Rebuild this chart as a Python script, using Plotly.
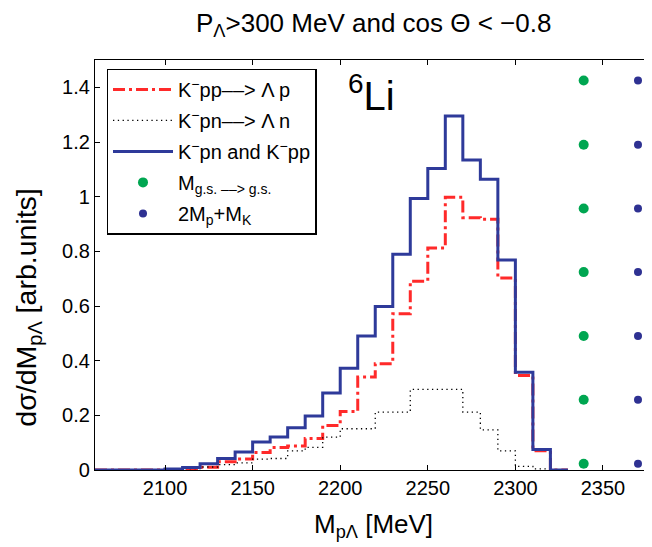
import plotly.graph_objects as go

# bin left edges (MeV), 10 MeV wide bins
bin_edges = [2060, 2070, 2080, 2090, 2100, 2110, 2120, 2130, 2140, 2150, 2160, 2170,
             2180, 2190, 2200, 2210, 2220, 2230, 2240, 2250, 2260, 2270, 2280, 2290,
             2300, 2310, 2320, 2330]

kpp_lp = [0, 0, 0, 0, 0.002, 0.004, 0.010, 0.030, 0.040, 0.064, 0.082, 0.088,
          0.115, 0.163, 0.214, 0.340, 0.389, 0.572, 0.691, 0.812, 0.998, 0.923,
          0.917, 0.702, 0.346, 0.070, 0]
kpn_ln = [0, 0, 0, 0, 0.002, 0.005, 0.011, 0.020, 0.026, 0.040, 0.042, 0.070,
          0.083, 0.120, 0.151, 0.151, 0.212, 0.212, 0.295, 0.295, 0.295, 0.212,
          0.147, 0.070, 0.013, 0.004, 0]
kpn_kpp = [0, 0, 0, 0, 0.004, 0.009, 0.023, 0.042, 0.066, 0.102, 0.121, 0.155,
           0.198, 0.282, 0.372, 0.490, 0.598, 0.789, 0.993, 1.103, 1.295, 1.134,
           1.064, 0.768, 0.358, 0.075, 0]

marker_levels = [0.023, 0.257, 0.490, 0.724, 0.957, 1.190, 1.425]
m_gs = 2339
m_2p_k = 2370

x_ticks = [2100, 2150, 2200, 2250, 2300, 2350]
y_ticks = [0, 0.2, 0.4, 0.6, 0.8, 1.0, 1.2, 1.4]
y_ticktext = ["0", "0.2", "0.4", "0.6", "0.8", "1", "1.2", "1.4"]

FONT = "Liberation Sans, Arial, Helvetica, sans-serif"


def stairs(vals):
    return vals + [vals[-1]]


fig = go.Figure()
fig.add_trace(go.Scatter(
    x=bin_edges, y=stairs(kpp_lp), mode="lines", line_shape="hv",
    line=dict(color="#ff2a2a", width=3, dash="12px,4px,3px,4px"),
    name="K<sup>−</sup>pp––> Λ p", legendgroup="a"))
fig.add_trace(go.Scatter(
    x=bin_edges, y=stairs(kpn_ln), mode="lines", line_shape="hv",
    line=dict(color="black", width=1.3, dash="1.3px,3.5px"),
    name="K<sup>−</sup>pn––> Λ n", legendgroup="b"))
fig.add_trace(go.Scatter(
    x=bin_edges, y=stairs(kpn_kpp), mode="lines", line_shape="hv",
    line=dict(color="#2e3a9a", width=3),
    name="K<sup>−</sup>pn and K<sup>−</sup>pp", legendgroup="c"))
fig.add_trace(go.Scatter(
    x=[m_gs] * len(marker_levels), y=marker_levels, mode="markers",
    marker=dict(color="#00a651", size=10),
    name="M<sub>g.s. ––> g.s.</sub>", legendgroup="d"))
fig.add_trace(go.Scatter(
    x=[m_2p_k] * len(marker_levels), y=marker_levels, mode="markers",
    marker=dict(color="#2e3192", size=8),
    name="2M<sub>p</sub>+M<sub>K</sub>", legendgroup="e"))
# invisible trace for right-side ticks
fig.add_trace(go.Scatter(x=[2060], y=[0], yaxis="y2", mode="markers",
                         marker=dict(opacity=0), showlegend=False, hoverinfo="skip"))

fig.update_layout(
    width=644, height=539,
    margin=dict(l=87, r=0, t=52, b=77),
    paper_bgcolor="white", plot_bgcolor="white",
    font=dict(family=FONT, size=20, color="black"),
    showlegend=True,
    legend=dict(x=0.021, y=0.979, xanchor="left", yanchor="top",
                bgcolor="white", bordercolor="black", borderwidth=1.3,
                font=dict(size=20), itemwidth=60, tracegroupgap=2,
                traceorder="grouped"),
    xaxis=dict(range=[2060, 2378], tickvals=x_ticks, ticks="inside", ticklen=5,
               tickwidth=1, tickcolor="black", showline=True, linecolor="black",
               linewidth=1.3, mirror="ticks", showgrid=False, zeroline=False,
               tickfont=dict(size=20)),
    yaxis=dict(range=[0, 1.5], tickvals=y_ticks, ticktext=y_ticktext,
               ticks="inside", ticklen=5, tickwidth=1, tickcolor="black",
               showline=True, linecolor="black", linewidth=1.3,
               showgrid=False, zeroline=False, tickfont=dict(size=20)),
    yaxis2=dict(range=[0, 1.5], tickvals=y_ticks, overlaying="y", side="right",
                ticks="inside", ticklen=5, tickwidth=1, tickcolor="black",
                showticklabels=False, showline=False, showgrid=False, zeroline=False),
    annotations=[
        dict(text="P<sub>Λ</sub>>300 MeV and cos Θ < −0.8", xref="paper", yref="paper",
             x=0.5, y=1.087, xanchor="center", yanchor="middle",
             showarrow=False, font=dict(size=26)),
        dict(text="M<sub>pΛ</sub> [MeV]", xref="paper", yref="paper",
             x=0.5, y=-0.135, xanchor="center", yanchor="middle",
             showarrow=False, font=dict(size=26)),
        dict(text="dσ/dM<sub>pΛ</sub> [arb.units]", xref="paper", yref="paper",
             x=-0.121, y=0.395, xanchor="center", yanchor="middle",
             textangle=-90, showarrow=False, font=dict(size=28.5)),
        dict(text="<sup>6</sup>Li", xref="paper", yref="paper",
             x=0.497, y=0.92, xanchor="center", yanchor="middle",
             showarrow=False, font=dict(size=40)),
    ],
)

fig.write_html("out.html")
